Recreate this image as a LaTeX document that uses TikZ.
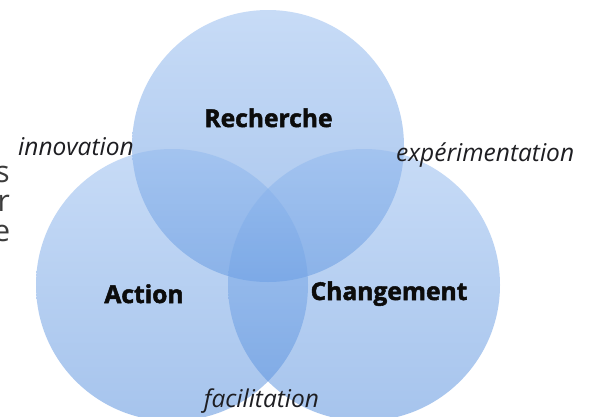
\documentclass[tikz,border=0pt]{standalone}
\usepackage{fontspec}
\setmainfont{Open Sans}
\newfontfamily\heavyfont{Open Sans}[UprightFont={* Bold}, UprightFeatures={FakeBold=2}]
\usetikzlibrary{positioning}
\definecolor{circtop}{RGB}{145,185,239}
\definecolor{circbot}{RGB}{78,138,220}
\definecolor{sidegray}{RGB}{60,60,60}
\definecolor{labink}{RGB}{12,12,12}
\definecolor{italink}{RGB}{30,30,34}
\tikzset{
  setcircle/.style={top color=circtop, bottom color=circbot, fill opacity=0.5, draw=none},
  mainlab/.style={inner sep=0pt, anchor=base, text=labink, font=\heavyfont\fontsize{24.6}{30}\selectfont},
  linklab/.style={inner sep=0pt, anchor=base, text=italink, font=\fontsize{24.5}{28}\selectfont\itshape},
  sidelab/.style={inner sep=0pt, anchor=base east, text=sidegray, font=\fontsize{30}{30}\selectfont}
}
\begin{document}
\begin{tikzpicture}[x=1pt,y=-1pt]
\useasboundingbox (0,0) rectangle (589,416);
\clip (0,0) rectangle (589,416);
\fill[white] (0,0) rectangle (589,416);
% circles
\shade[setcircle] (268,146) circle (136);
\shade[setcircle] (172,285) circle (136);
\shade[setcircle] (364,285) circle (136);
% coordinates for labels
\coordinate (pR) at (268.5,127);
\coordinate (pA) at (144,303);
\coordinate (pC) at (389,300);
\coordinate (pI) at (76,155.5);
\coordinate (pE) at (396,161);
\coordinate (pF) at (261.5,407);
% main labels
\node[mainlab] (recherche) at (pR) {Recherche};
\node[mainlab] (action) at (pA) {Action};
\node[mainlab] (changement) at (pC) {Changement};
% link labels
\node[linklab] (innovation) at (pI) {innovation};
\node[linklab] (facilitation) at (pF) {facilitation};
\begin{scope}
\clip (0,0) rectangle (572,416);
\node[linklab, anchor=base west] (experimentation) at (pE) {expérimentation};
\end{scope}
% cropped side text
\node[sidelab] (sideS) at (10,182) {s};
\node[sidelab] (sideR) at (10,211) {r};
\node[sidelab] (sideE) at (10.5,241) {e};
\end{tikzpicture}
\end{document}
